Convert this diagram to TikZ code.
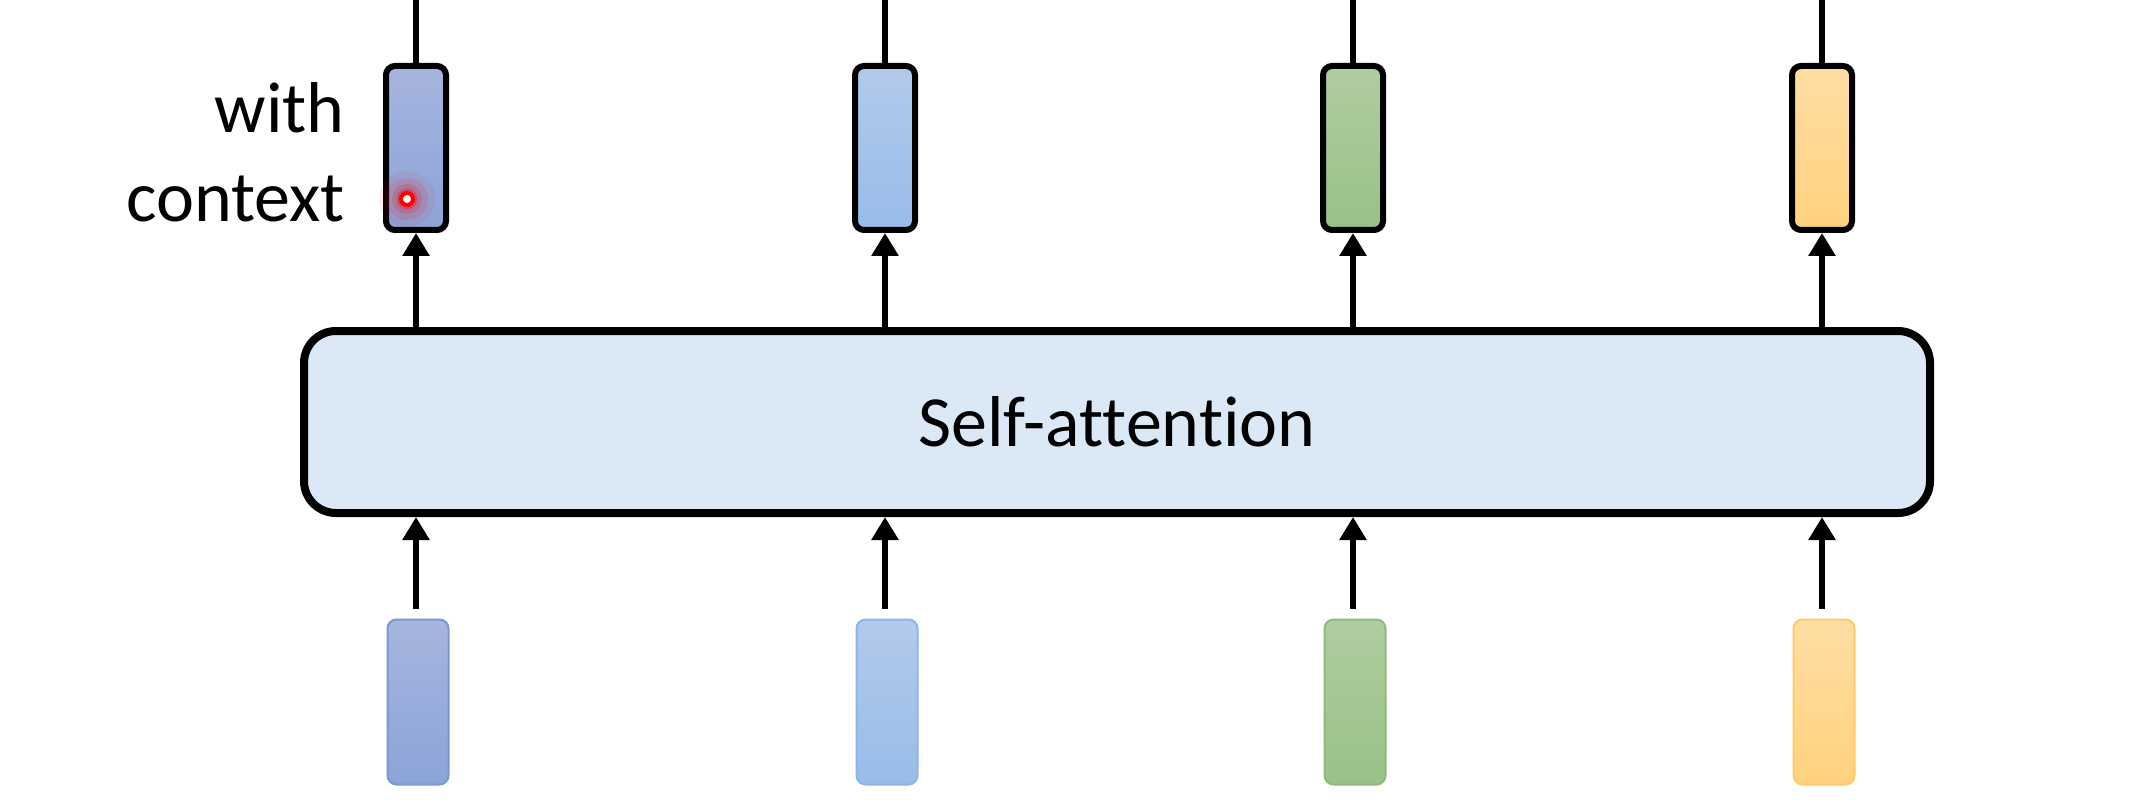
\documentclass[tikz,border=0pt]{standalone}
\usepackage{fontspec}
\setmainfont{Carlito}[Ligatures=NoCommon]
\usetikzlibrary{arrows.meta}
\definecolor{bAt}{HTML}{A6B5DE}\definecolor{bAb}{HTML}{8CA4D9}
\definecolor{bBt}{HTML}{B2CAEC}\definecolor{bBb}{HTML}{98BCE8}
\definecolor{gt}{HTML}{B0CCA0}\definecolor{gb}{HTML}{99C187}
\definecolor{yt}{HTML}{FFDDA3}\definecolor{yb}{HTML}{FFD27E}
\definecolor{bAd}{HTML}{7A98D2}\definecolor{bBd}{HTML}{8FB5E6}
\definecolor{gd}{HTML}{8EBA7B}\definecolor{yd}{HTML}{FFCB66}
\definecolor{safill}{HTML}{DBE8F6}
\tikzset{
  topbox/.style={draw=black, line width=6pt, rounded corners=9pt, minimum width=60pt, minimum height=164pt, inner sep=0pt},
  botbox/.style={line width=2pt, rounded corners=9pt, minimum width=61pt, minimum height=165pt, inner sep=0pt},
  sabox/.style={draw=black, line width=8pt, rounded corners=32pt, fill=safill, minimum width=1626pt, minimum height=182pt, inner sep=0pt},
  arr/.style={line width=6pt, -{Triangle[width=26pt,length=23pt]}},
  plain/.style={line width=6pt},
  lbl/.style={font=\fontsize{72}{86}\selectfont, inner sep=0pt}
}
\begin{document}
\begin{tikzpicture}[x=1pt,y=-1pt]
\path[use as bounding box, fill=white] (0,0) rectangle (2136,810);
% self-attention
\node[sabox, lbl] (sa) at (1117,422) {Self-attention};
% top boxes
\node[topbox, top color=bAt, bottom color=bAb] (t1) at (416,148) {};
\node[topbox, top color=bBt, bottom color=bBb] (t2) at (885,148) {};
\node[topbox, top color=gt, bottom color=gb] (t3) at (1353,148) {};
\node[topbox, top color=yt, bottom color=yb] (t4) at (1822,148) {};
% bottom boxes
\node[botbox, draw=bAd, top color=bAt, bottom color=bAb] (b1) at (418,702) {};
\node[botbox, draw=bBd, top color=bBt, bottom color=bBb] (b2) at (887,702) {};
\node[botbox, draw=gd, top color=gt, bottom color=gb] (b3) at (1355,702) {};
\node[botbox, draw=yd, top color=yt, bottom color=yb] (b4) at (1824,702) {};
% top free ends
\coordinate (e1) at (416,0);
\coordinate (e2) at (885,0);
\coordinate (e3) at (1353,0);
\coordinate (e4) at (1822,0);
\foreach \i in {1,2,3,4}{
  \draw[plain] (t\i.north) -- (e\i);
  \draw[arr] (sa.north -| t\i) -- (t\i.south);
  \draw[arr] ([yshift=10pt]b\i.north -| t\i) -- (sa.south -| t\i);
}
% labels
\node[lbl, anchor=base east] (w) at (345,133) {with};
\node[lbl, anchor=base east] (c) at (345,222) {context};
% laser pointer dot
\coordinate (dot) at (407,199);
\fill[red, opacity=0.07] (dot) circle (28);
\fill[red, opacity=0.10] (dot) circle (21);
\fill[red, opacity=0.16] (dot) circle (15);
\fill[red, opacity=0.3] (dot) circle (10.5);
\draw[red, line width=4pt, fill=white] (dot) circle (6);
\end{tikzpicture}
\end{document}
